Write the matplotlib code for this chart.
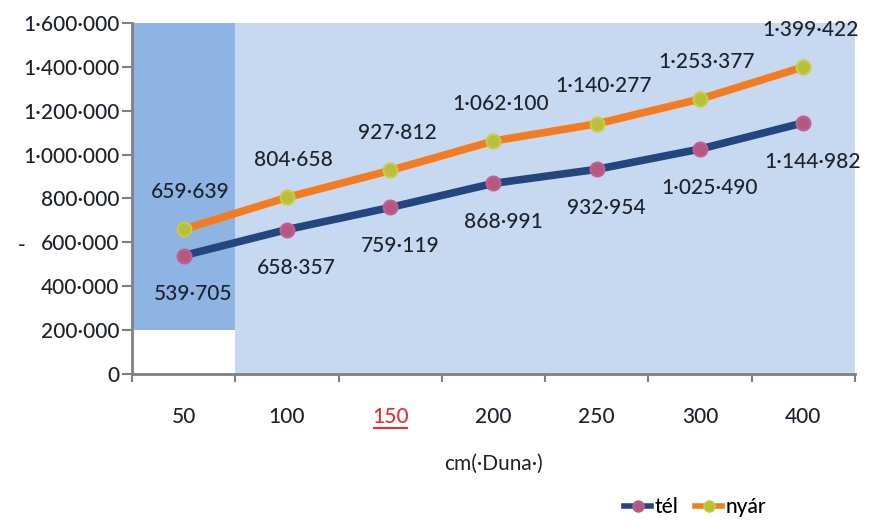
import matplotlib.pyplot as plt
from matplotlib.lines import Line2D
from matplotlib.patches import Rectangle

plt.rcParams['font.family'] = ['Lato', 'DejaVu Sans']
plt.rcParams['font.weight'] = 'medium'

# vízállás (cm, Duna) és a két évszak értékei
szintek = ['50', '100', '150', '200', '250', '300', '400']
tel = [539705, 658357, 759119, 868991, 932954, 1025490, 1144982]
nyar = [659639, 804658, 927812, 1062100, 1140277, 1253377, 1399422]

KEK = '#24467F'
NARANCS = '#F47C20'
SZOVEG = '#1E222C'


def pontos(v):
    return f"{int(v):,}".replace(",", "·")


fig = plt.figure(figsize=(8.7, 5.25), dpi=100)
ax = fig.add_axes([132 / 870, 151 / 525, 723 / 870, 351 / 525])

x = list(range(len(szintek)))
ax.set_xlim(-0.5, len(szintek) - 0.5)
ax.set_ylim(0, 1600000)

# háttérsávok
ax.add_patch(Rectangle((0.5, 0), 6, 1600000, color='#C6D9F0', zorder=0, lw=0))
ax.add_patch(Rectangle((-0.5, 200000), 1, 1400000, color='#8DB4E2', zorder=0, lw=0))

ax.plot(x, tel, color=KEK, lw=5.5, marker='o', ms=10, mfc='#B5577E',
        mec='#C06090', mew=1.5, zorder=3)
ax.plot(x, nyar, color=NARANCS, lw=5.5, marker='o', ms=10, mfc='#B8C03A',
        mec='#C8CC40', mew=1.5, zorder=3)

for i in x:
    ax.annotate(pontos(nyar[i]), (i, nyar[i]), xytext=(5, 27), textcoords='offset points',
                ha='center', va='center', fontsize=15, color=SZOVEG)
    ax.annotate(pontos(tel[i]), (i, tel[i]), xytext=(7, -28), textcoords='offset points',
                ha='center', va='center', fontsize=15, color=SZOVEG)

ax.set_yticks(range(0, 1600001, 200000))
ax.set_yticklabels([pontos(v) for v in range(0, 1600001, 200000)], fontsize=15, color=SZOVEG)
ax.set_xticks(x)
ax.set_xticklabels(szintek, fontsize=15, color=SZOVEG)
ax.get_xticklabels()[2].set_color('#E03030')
ax.set_xticks([i + 0.5 for i in range(-1, len(szintek))], minor=True)
ax.tick_params(axis='x', which='major', length=0, pad=24)
ax.tick_params(axis='x', which='minor', length=6, width=1.5, color='#808080')
ax.tick_params(axis='y', length=7, width=1.5, color='#808080', pad=2)

# aláhúzás a 150 alatt
ax.plot([1.84, 2.16], [-0.153, -0.153], color='#E03030', lw=1.5,
        transform=ax.get_xaxis_transform(), clip_on=False)

for s in ['top', 'right']:
    ax.spines[s].set_visible(False)
for s in ['left', 'bottom']:
    ax.spines[s].set_color('#808080')
    ax.spines[s].set_linewidth(2)

ax.set_xlabel('cm(·Duna·)', fontsize=15, color=SZOVEG, labelpad=19)
fig.text(22 / 870, 1 - 246 / 525, '-', fontsize=15, color=SZOVEG, ha='center', va='center')

kezelok = [
    Line2D([], [], color=KEK, lw=4, marker='o', ms=8, mfc='#B5577E', mec='#C06090'),
    Line2D([], [], color=NARANCS, lw=4, marker='o', ms=8, mfc='#B8C03A', mec='#C8CC40'),
]
fig.legend(kezelok, ['tél', 'nyár'], loc='center', bbox_to_anchor=(695 / 870, 1 - 507 / 525),
           ncol=2, frameon=False, fontsize=15, handlelength=1.3, handletextpad=0.15,
           columnspacing=0.8)

fig.savefig('out.png', dpi=100)
